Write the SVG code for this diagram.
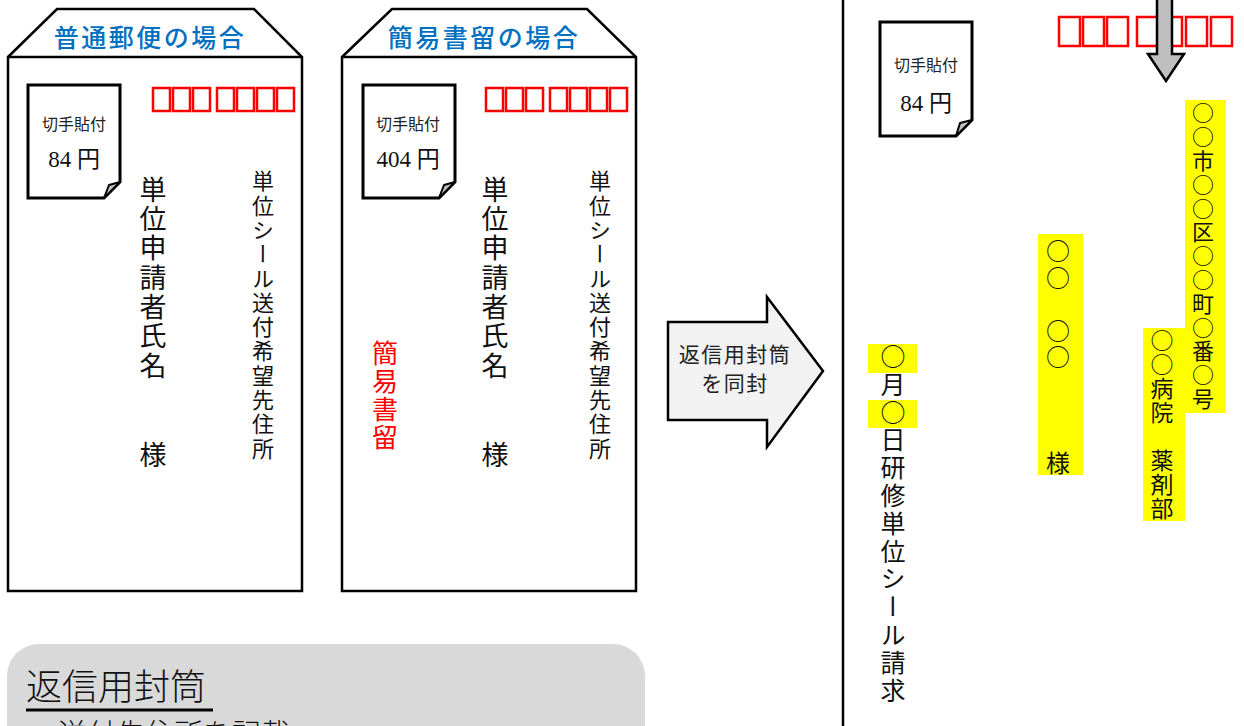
<svg xmlns="http://www.w3.org/2000/svg" width="1244" height="726" viewBox="0 0 1244 726">
<defs>
<style>
.env{fill:#fff;stroke:#000;stroke-width:2.5;stroke-linejoin:miter}
.stamp{fill:#fff;stroke:#000;stroke-width:3;stroke-linejoin:miter}
.fold{fill:#bfbfbf;stroke:#000;stroke-width:2;stroke-linejoin:round}
.title{font-family:"Noto Sans CJK JP",sans-serif;font-size:25px;font-weight:500;fill:#0070C0;text-anchor:middle;letter-spacing:2.5px}
.sm{font-family:"Noto Sans CJK JP",sans-serif;font-size:16px;fill:#222;text-anchor:middle}
.yen{font-family:"Liberation Serif","Noto Sans CJK JP",serif;font-size:23px;fill:#111;text-anchor:middle}
.pc{fill:none;stroke:#ff0000;stroke-width:2.5}
.v{font-family:"Noto Sans CJK JP",sans-serif;fill:#111;writing-mode:vertical-rl}
.yl{fill:#ffff00}
</style>
</defs>

<g id="envelope-normal">
  <path class="env" d="M8,57 L57,9 H254 L302,57 V591 H8 Z"/>
  <path fill="none" stroke="#000" stroke-width="2.5" d="M8,57 H302"/>
  <text class="title" x="150" y="47">普通郵便の場合</text>
  <path class="stamp" d="M28,85 H120 V182 L104,198 H28 Z"/>
  <path class="fold" d="M104,198 L109,185 L120,182 Z"/>
  <text class="sm" x="74" y="130">切手貼付</text>
  <text class="yen" x="74" y="167">84 円</text>
  <g>
    <rect class="pc" x="153" y="88" width="17" height="23"/>
    <rect class="pc" x="173" y="88" width="17" height="23"/>
    <rect class="pc" x="193" y="88" width="17" height="23"/>
    <rect class="pc" x="217" y="88" width="17" height="23"/>
    <rect class="pc" x="237" y="88" width="17" height="23"/>
    <rect class="pc" x="257" y="88" width="17" height="23"/>
    <rect class="pc" x="277" y="88" width="17" height="23"/>
  </g>
  <text class="v" x="153" y="176" style="font-size:27px;letter-spacing:2.3px">単位申請者氏名</text>
  <text class="v" x="153" y="441" style="font-size:27px">様</text>
  <text class="v" x="263" y="170" style="font-size:22px;letter-spacing:2.3px">単位シール送付希望先住所</text>
</g>

<g id="envelope-registered">
  <path class="env" d="M342,57 L392,9 H587 L636,57 V591 H342 Z"/>
  <path fill="none" stroke="#000" stroke-width="2.5" d="M342,57 H636"/>
  <text class="title" x="484" y="47">簡易書留の場合</text>
  <path class="stamp" d="M363,85 H455 V182 L439,198 H363 Z"/>
  <path class="fold" d="M439,198 L444,185 L455,182 Z"/>
  <text class="sm" x="408" y="130">切手貼付</text>
  <text class="yen" x="408" y="167">404 円</text>
  <g>
    <rect class="pc" x="486" y="88" width="17" height="23"/>
    <rect class="pc" x="506" y="88" width="17" height="23"/>
    <rect class="pc" x="526" y="88" width="17" height="23"/>
    <rect class="pc" x="550" y="88" width="17" height="23"/>
    <rect class="pc" x="570" y="88" width="17" height="23"/>
    <rect class="pc" x="590" y="88" width="17" height="23"/>
    <rect class="pc" x="610" y="88" width="17" height="23"/>
  </g>
  <text class="v" x="495" y="176" style="font-size:27px;letter-spacing:2.3px">単位申請者氏名</text>
  <text class="v" x="495" y="441" style="font-size:27px">様</text>
  <text class="v" x="600" y="170" style="font-size:22px;letter-spacing:2.3px">単位シール送付希望先住所</text>
  <text class="v" x="385" y="340" style="font-size:26px;letter-spacing:2px;fill:#ff0000">簡易書留</text>
</g>

<g id="enclose-arrow">
  <path d="M668,322 H767 V297 L823,371 L767,447 V420 H668 Z" fill="#f2f2f2" stroke="#000" stroke-width="2.5" stroke-linejoin="miter"/>
  <text x="735" y="362" style="font-family:'Noto Sans CJK JP',sans-serif;font-size:21px;fill:#222;text-anchor:middle;letter-spacing:1.5px">返信用封筒</text>
  <text x="735" y="391" style="font-family:'Noto Sans CJK JP',sans-serif;font-size:21px;fill:#222;text-anchor:middle;letter-spacing:1.5px">を同封</text>
</g>

<g id="return-envelope">
  <line x1="843" y1="0" x2="843" y2="726" stroke="#000" stroke-width="2.5"/>
  <path class="stamp" d="M880,22 H972 V120 L956,136 H880 Z"/>
  <path class="fold" d="M956,136 L960,123 L972,120 Z"/>
  <text class="sm" x="926" y="71">切手貼付</text>
  <text class="yen" x="926" y="111">84 円</text>
  <g>
    <rect class="pc" x="1059" y="17" width="21" height="29"/>
    <rect class="pc" x="1083" y="17" width="21" height="29"/>
    <rect class="pc" x="1107" y="17" width="21" height="29"/>
    <rect class="pc" x="1137" y="17" width="21" height="29"/>
    <rect class="pc" x="1161" y="17" width="21" height="29"/>
    <rect class="pc" x="1186" y="17" width="21" height="29"/>
    <rect class="pc" x="1211" y="17" width="21" height="29"/>
  </g>
  <path d="M1157,-3 V54 H1148 L1166,81 L1184,54 H1172 V-3 Z" fill="#bfbfbf" stroke="#000" stroke-width="2.5" stroke-linejoin="miter"/>

  <rect class="yl" x="868" y="344" width="49" height="29"/>
  <rect class="yl" x="868" y="400" width="49" height="28"/>
  <text class="v" x="893" y="344" style="font-size:25px;letter-spacing:2.8px">○月○日研修単位シール請求</text>

  <rect class="yl" x="1038" y="234" width="45" height="241"/>
  <text class="v" x="1058" y="239" style="font-size:24px;letter-spacing:2.5px">○○　○○　　　様</text>

  <rect class="yl" x="1143" y="328" width="42" height="193"/>
  <text class="v" x="1162" y="329" style="font-size:23px;letter-spacing:1px">○○病院　薬剤部</text>

  <rect class="yl" x="1185" y="100" width="41" height="313"/>
  <text class="v" x="1203" y="102" style="font-size:22px;letter-spacing:1.8px">○○市○○区○○町○番○号</text>
</g>

<g id="note">
  <rect x="7" y="644" width="638" height="130" rx="32" fill="#d9d9d9"/>
  <text x="26" y="700" style="font-family:'Noto Sans CJK JP',sans-serif;font-size:36px;fill:#111;font-weight:300">返信用封筒</text>
  <line x1="26" y1="710" x2="213" y2="710" stroke="#000" stroke-width="3"/>
  <text x="58" y="745" style="font-family:'Noto Sans CJK JP',sans-serif;font-size:29px;fill:#111;font-weight:300">送付先住所を記載</text>
</g>
</svg>
